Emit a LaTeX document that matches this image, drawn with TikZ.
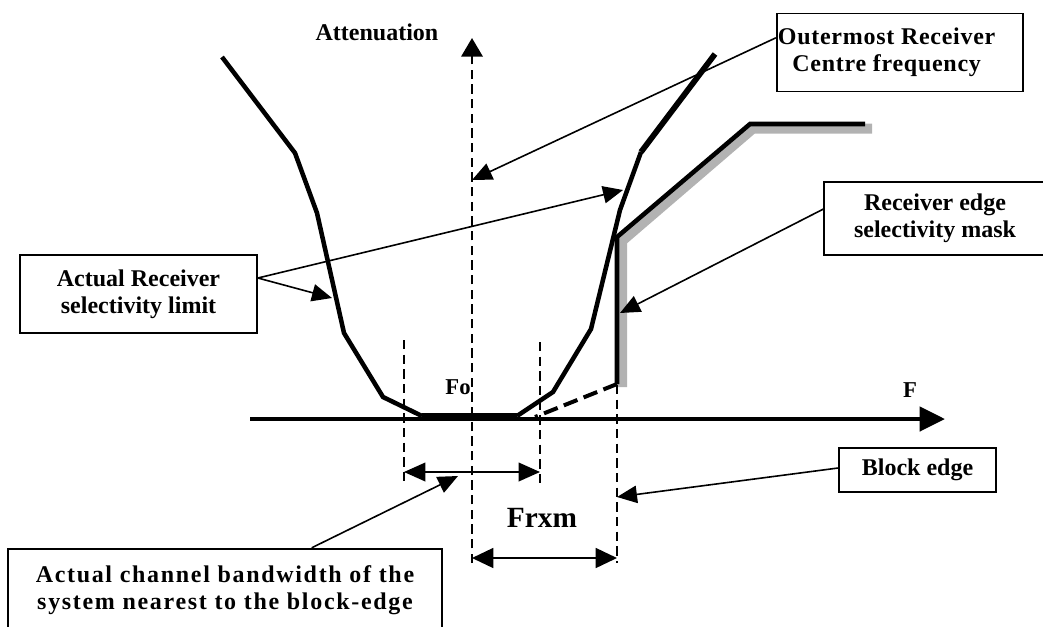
\documentclass[tikz,border=0pt]{standalone}
\usepackage{fontspec}
\setmainfont{Liberation Serif}
\usetikzlibrary{arrows.meta,calc}
\begin{document}
\begin{tikzpicture}[x=0.75pt,y=-0.75pt,
  curve/.style={line width=3.4pt, line join=miter},
  thin/.style={line width=1.2pt},
  tipA/.style={-{Triangle[length=15pt,width=13pt]}},
  vdash/.style={line width=1.9pt, dash pattern=on 7pt off 4pt},
  box/.style={draw, line width=1.3pt, align=center, inner sep=0pt,
              font=\fontsize{18}{20}\selectfont\bfseries},
  lbl/.style={font=\fontsize{18}{20}\selectfont\bfseries, inner sep=0pt},
  shadow/.style={draw=gray!60, line width=7.5pt, line join=miter}]
\useasboundingbox (0,0) rectangle (1043,626);
\clip (0,0) rectangle (1043,626);

% boxes
\node[box, minimum width=185pt, minimum height=58.5pt,
      font=\fontsize{18}{20}\selectfont\bfseries\addfontfeature{LetterSpace=3}] (ob) at (900,52.5)
  {\hspace*{-20pt}Outermost Receiver\\\hspace*{-20pt}Centre frequency};
\node[box, minimum width=177.75pt, minimum height=58.5pt] (ar) at (138.5,294)
  {Actual Receiver\\selectivity limit};
\node[box, minimum width=166.5pt, minimum height=54.75pt] (re) at (935,218.5)
  {Receiver edge\\selectivity mask};
\node[box, minimum width=117.75pt, minimum height=33pt] (be) at (917.5,470)
  {\raisebox{3pt}{Block edge}};
\node[box, minimum width=325.5pt, minimum height=62pt,
      font=\fontsize{18}{20}\selectfont\bfseries\addfontfeature{LetterSpace=7}] (bb) at (225,590)
  {Actual channel bandwidth of the\\system nearest to the block-edge};

% labels
\node[lbl] (att) at (377,32) {Attenuation};
\node[lbl, font=\fontsize{17}{19}\selectfont\bfseries] (fo) at (458,387) {Fo};
\node[lbl, font=\fontsize{17}{19}\selectfont\bfseries] (fl) at (910,390) {F};
\node[lbl, font=\fontsize{22}{24}\selectfont\bfseries] (frxm) at (542,518) {Frxm};

% coordinates
\coordinate (axL) at (250,419);
\coordinate (axR) at (945,419);
\coordinate (vB) at (472,563);
\coordinate (vT) at (472,38);
\coordinate (d1t) at (404,340); \coordinate (d1b) at (404,483);
\coordinate (d2t) at (540,342); \coordinate (d2b) at (540,486);
\coordinate (d3t) at (617,385); \coordinate (d3b) at (617,563);
\coordinate (bwL) at (404,472); \coordinate (bwR) at (540,472);
\coordinate (fxL) at (472,558); \coordinate (fxR) at (617,558);

% mask with shadow
\draw[shadow] (622,387) -- (622,241) -- (753,128.5) -- (872,128.5);
\draw[curve] (617,384) -- (617,237) -- (750,124) -- (865,124);
\draw[line width=3pt, dash pattern=on 11pt off 5pt] (617,384) -- (535,417);

% selectivity curve
\draw[curve] (222,57) -- (295,153) -- (317,213) -- (344,333) -- (383,397) -- (422,416);
\draw[line width=5pt] (422,416) -- (517,416);
\draw[curve] (517,416) -- (553,392) -- (591,329) -- (620,210) -- (641,152);
\draw[line width=4.3pt] (641,152) -- (715,54);

% axes
\draw[line width=3.4pt, -{Triangle[length=19pt,width=18pt]}] (axL) -- (axR);
\draw[vdash, -{Triangle[length=14pt,width=16pt]}] (vB) -- (vT);
\draw[vdash] (d1t) -- (d1b);
\draw[vdash] (d2t) -- (d2b);
\draw[vdash, line width=1.5pt] (d3t) -- (d3b);

% dimension arrows
\draw[thin, {Triangle[length=16pt,width=14pt]}-{Triangle[length=16pt,width=14pt]}] (bwL) -- (bwR);
\draw[thin, {Triangle[length=16pt,width=15pt]}-{Triangle[length=16pt,width=15pt]}] (fxL) -- (fxR);

% leaders
\coordinate (cfT) at (472,180);
\coordinate (rcT) at (623,190);
\coordinate (lcT) at (332,298);
\coordinate (mkT) at (620,313);
\coordinate (beT) at (617,497);
\coordinate (bwT) at (458,476);
\draw[thin, tipA] ([yshift=11pt]ob.west) -- (cfT);
\draw[thin, tipA] ([yshift=12pt]ar.east) -- (rcT);
\draw[thin, tipA] ([yshift=12pt]ar.east) -- (lcT);
\draw[thin, tipA] ([yshift=7pt]re.west) -- (mkT);
\draw[thin, tipA] ([yshift=1.5pt]be.west) -- (beT);
\draw[thin, tipA] ([xshift=65pt]bb.north) -- (bwT);
\end{tikzpicture}
\end{document}
